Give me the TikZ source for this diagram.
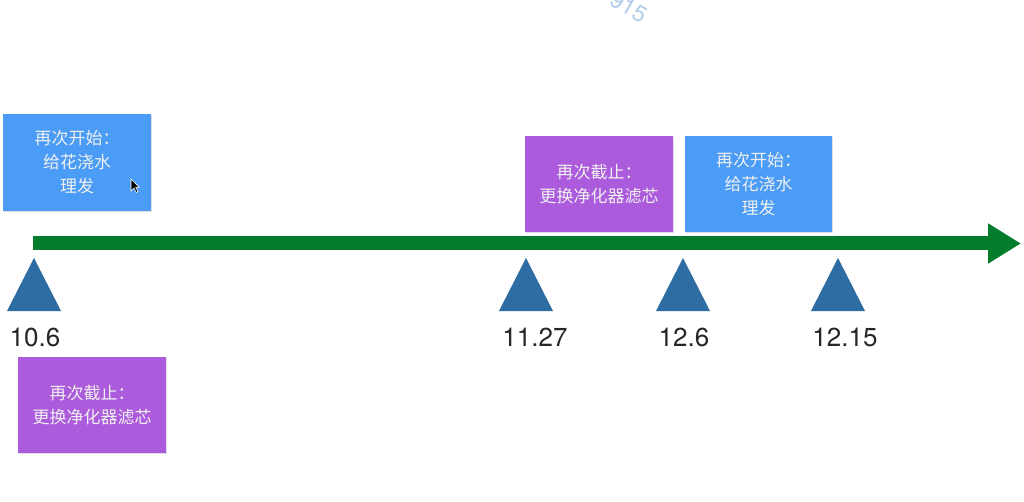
\documentclass[tikz,border=0pt]{standalone}
\usepackage{fontspec}
\setmainfont{TeX Gyre Heros}
\newfontfamily\cjk{Noto Sans CJK SC}
\usetikzlibrary{shadows,arrows.meta}
\definecolor{boxblue}{HTML}{4A9CF6}
\definecolor{boxpurple}{HTML}{AB5BDC}
\definecolor{linegreen}{HTML}{037D2C}
\definecolor{triblue}{HTML}{2D6DA3}
\definecolor{wmark}{HTML}{B2CDEA}
\tikzset{
  evbox/.style={minimum width=148pt, minimum height=96pt, inner sep=0pt, align=center,
    text=white!94!black, font=\cjk\fontsize{17}{24}\selectfont,
    drop shadow={shadow xshift=1pt, shadow yshift=-1pt, opacity=0.25}},
  bluebox/.style={evbox, fill=boxblue},
  purplebox/.style={evbox, fill=boxpurple},
  marker/.style={fill=triblue},
  datelabel/.style={font=\fontsize{26}{30}\selectfont, text=black!85, inner sep=0pt},
}
\begin{document}
\begin{tikzpicture}[x=1pt,y=-1pt]
\useasboundingbox (0,0) rectangle (1024,502);
\fill[white] (0,0) rectangle (1024,502);

% watermark
\node[text=wmark, font=\fontsize{23}{23}\selectfont, rotate=-30] (wm) at (629,7) {915};

% timeline
\coordinate (tstart) at (33,243.5);
\coordinate (tend) at (1021,243.5);
\draw[linegreen, line width=14pt, -{Triangle[length=33pt,width=38pt]}] (tstart) -- (tend);

% markers
\foreach \x in {34,526,683,838}{
  \fill[marker] (\x,258) -- (\x+27,311) -- (\x-27,311) -- cycle;
}

% date labels
\node[datelabel] (d1) at (35,337) {10.6};
\node[datelabel] (d2) at (535,337) {11.27};
\node[datelabel] (d3) at (684,337) {12.6};
\node[datelabel] (d4) at (845,337) {12.15};

% boxes
\node[bluebox, minimum height=97pt] (b1) at (77,162.5) {再次开始：\\给花浇水\\理发};
\node[purplebox] (p1) at (92,405) {再次截止：\\更换净化器滤芯};
\node[purplebox] (p2) at (599,184) {再次截止：\\更换净化器滤芯};
\node[bluebox, minimum width=147pt] (b2) at (758.5,184) {再次开始：\\给花浇水\\理发};

% cursor
\filldraw[black, draw=white, line width=0.6pt] (131,179) -- (131,191) -- (134,188) -- (136.2,192.5) -- (138,191.7) -- (135.8,187.3) -- (139.5,187.3) -- cycle;
\end{tikzpicture}
\end{document}
